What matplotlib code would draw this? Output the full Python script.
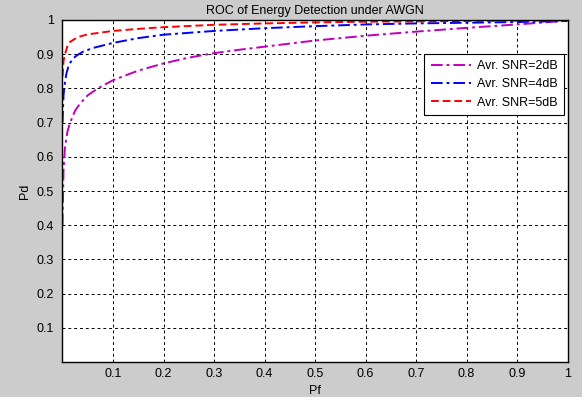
import numpy as np
import matplotlib
matplotlib.use("Agg")
import matplotlib.pyplot as plt

plt.rcParams['font.family'] = ['Liberation Sans', 'DejaVu Sans']

# false alarm probability (x) and detection probability (y)
pf_2db = [0.0, 0.002, 0.005, 0.01, 0.015, 0.025, 0.035, 0.05, 0.07, 0.1, 0.15, 0.2,
          0.25, 0.3, 0.35, 0.4, 0.5, 0.6, 0.7, 0.8, 0.9, 1.0]
pd_2db = [0.40, 0.56, 0.63, 0.675, 0.70, 0.735, 0.756, 0.78, 0.80, 0.824, 0.852, 0.873,
          0.89, 0.903, 0.913, 0.922, 0.94, 0.954, 0.966, 0.977, 0.987, 0.998]

pf_4db = [0.0, 0.002, 0.005, 0.008, 0.013, 0.021, 0.03, 0.04, 0.06, 0.1, 0.15, 0.2,
          0.3, 0.4, 0.5, 0.6, 0.7, 0.8, 0.9, 1.0]
pd_4db = [0.70, 0.78, 0.82, 0.845, 0.87, 0.888, 0.898, 0.907, 0.918, 0.933, 0.947, 0.957,
          0.968, 0.976, 0.982, 0.987, 0.99, 0.992, 0.994, 0.997]

pf_5db = [0.0, 0.002, 0.005, 0.01, 0.015, 0.03, 0.05, 0.1, 0.15, 0.2, 0.3, 0.4,
          0.5, 0.6, 0.7, 0.8, 0.9, 1.0]
pd_5db = [0.835, 0.88, 0.90, 0.925, 0.936, 0.95, 0.958, 0.968, 0.974, 0.979, 0.986, 0.99,
          0.993, 0.995, 0.996, 0.997, 0.998, 0.999]

labels = ['Avr. SNR=2dB', 'Avr. SNR=4dB', 'Avr. SNR=5dB']
ticks = [0.1, 0.2, 0.3, 0.4, 0.5, 0.6, 0.7, 0.8, 0.9, 1]

fig = plt.figure(figsize=(5.82, 3.97), dpi=100, facecolor='#cccccc')
ax = fig.add_axes([62.5 / 582, 35 / 397, 505 / 582, 342 / 397])
ax.set_facecolor('white')

ax.plot(pf_2db, pd_2db, color='#c000c0', linestyle=(0, (6, 2, 1.5, 2)), linewidth=1.4,
        label=labels[0])
ax.plot(pf_4db, pd_4db, color='#0000ff', linestyle=(0, (6, 2, 1.5, 2)), linewidth=1.4,
        label=labels[1])
ax.plot(pf_5db, pd_5db, color='#ff0000', linestyle=(0, (4, 2)), linewidth=1.4,
        label=labels[2])

ax.set_xlim(0, 1)
ax.set_ylim(0, 1)
ax.set_xticks(ticks)
ax.set_yticks(ticks)
ax.set_xticklabels([f'{t:g}' for t in ticks])
ax.set_yticklabels([f'{t:g}' for t in ticks])
ax.tick_params(direction='in', length=0, labelsize=9)
ax.tick_params(axis='x', pad=4)
ax.tick_params(axis='y', pad=6)
ax.grid(True, color='black', linestyle=(0, (3, 3)), linewidth=0.7)
for sp in ax.spines.values():
    sp.set_linewidth(1.0)
    sp.set_color('black')

ax.set_title('ROC of Energy Detection under AWGN', fontsize=9, pad=4)
ax.set_xlabel('Pf', fontsize=9, labelpad=4)
ax.set_ylabel('Pd', fontsize=9, labelpad=4)

leg = ax.legend(loc='upper right', bbox_to_anchor=(0.993, 0.901), borderaxespad=0,
                fontsize=9, fancybox=False, framealpha=1, edgecolor='black',
                handlelength=3.2, borderpad=0.5, labelspacing=0.5, handletextpad=0.5)
leg.get_frame().set_linewidth(0.8)

fig.savefig('out.png', dpi=100, facecolor=fig.get_facecolor())
